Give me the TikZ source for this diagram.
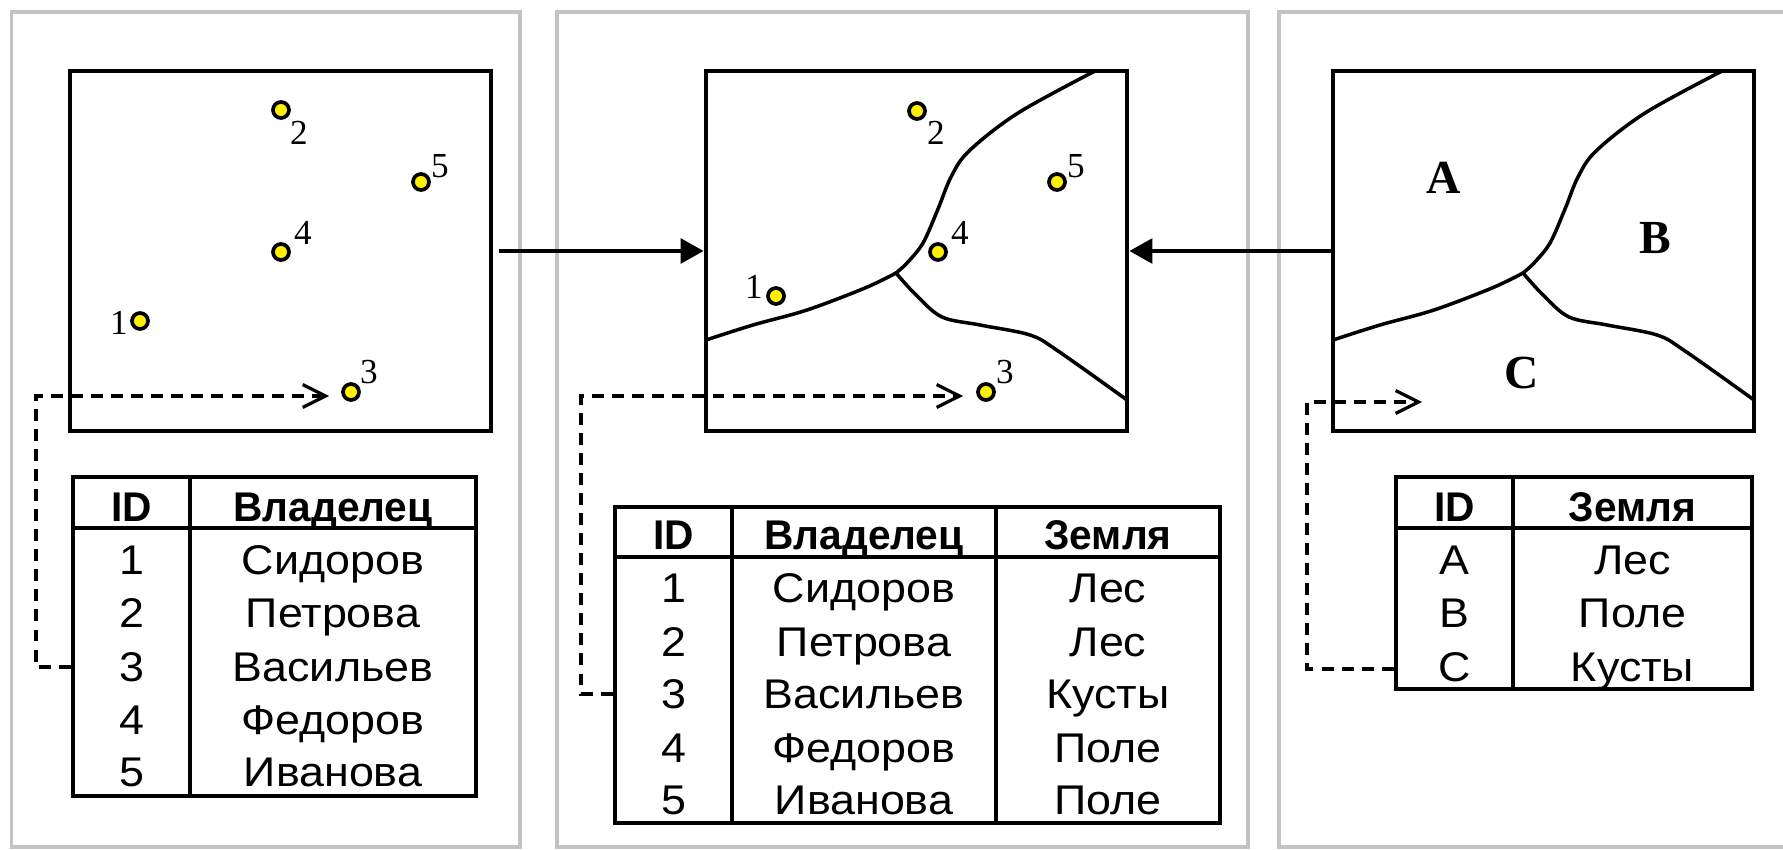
\documentclass[tikz,border=0pt]{standalone}
\usepackage{fontspec}
\setmainfont{Liberation Serif}
\setsansfont{Liberation Sans}[FakeStretch=1.08, BoldFeatures={FakeStretch=0.98}]
\usetikzlibrary{arrows.meta}
\definecolor{ptyellow}{RGB}{255,240,0}
\definecolor{panelgray}{RGB}{195,195,195}
\newcommand\voronoilines{%
  \draw[border] plot[smooth, tension=0.55] coordinates {(389,0) (312,42) (263,80) (245,106) (232,138) (217,172) (201,192) (190,202)};
  \draw[border] plot[smooth, tension=0.55] coordinates {(0,269) (47,254) (101,239) (159,217) (190,202)};
  \draw[border] plot[smooth, tension=0.55] coordinates {(190,202) (210,224) (236,246) (274,254) (324,264) (352,280) (421,329)};
}
\begin{document}
\begin{tikzpicture}[x=0.01cm,y=-0.01cm,
  panel/.style={draw=panelgray, line width=0.9pt},
  mapbox/.style={draw, line width=1.3pt, minimum width=4.21cm, minimum height=3.6cm, inner sep=0pt},
  pt/.style={circle, draw, fill=ptyellow, line width=1.05pt, minimum size=0.16cm, inner sep=0pt},
  ptlab/.style={font=\fontsize{10pt}{10pt}\selectfont, inner sep=0pt},
  region/.style={font=\bfseries\fontsize{13.5pt}{13.5pt}\selectfont, inner sep=0pt},
  border/.style={line width=1pt, line join=round, line cap=round},
  conn/.style={line width=1pt, -{Triangle[length=6.5pt,width=7pt]}},
  dconn/.style={line width=0.9pt, dash pattern=on 3.4pt off 2.3pt, -{Straight Barb[length=6.5pt,width=6.5pt]}},
  tab/.style={draw, line width=1.3pt, inner sep=0pt},
  tline/.style={line width=1pt},
  cell/.style={font=\sffamily\fontsize{11.8pt}{13pt}\selectfont, inner sep=0pt, text height=8.5pt, text depth=0pt},
  hcell/.style={cell, font=\sffamily\bfseries\fontsize{11.8pt}{13pt}\selectfont},
]
\useasboundingbox (0,0) rectangle (1783,849);

% panels
\draw[panel] (11.5,12) rectangle (520,847);
\draw[panel] (557,12) rectangle (1248,847);
\draw[panel] (1800,12) -- (1279,12) -- (1279,847) -- (1800,847);

% maps
\node[mapbox] (m1) at (280.5,251) {};
\node[mapbox] (m2) at (916.5,251) {};
\node[mapbox] (m3) at (1543.5,251) {};

\begin{scope}[shift={(706,71)}]
  \voronoilines
\end{scope}
\begin{scope}[shift={(1333,71)}]
  \voronoilines
\end{scope}

% points map 1
\node[pt] (p11) at (140,321) {};
\node[pt] (p12) at (281,110) {};
\node[pt] (p13) at (351,392) {};
\node[pt] (p14) at (281,252) {};
\node[pt] (p15) at (421,182) {};
\node[ptlab] (l11) at (119,323) {1};
\node[ptlab] (l12) at (299,133) {2};
\node[ptlab] (l13) at (369,372) {3};
\node[ptlab] (l14) at (303,233) {4};
\node[ptlab] (l15) at (440,166) {5};

% points map 2
\node[pt] (p21) at (776,296) {};
\node[pt] (p22) at (917,111) {};
\node[pt] (p23) at (986,392) {};
\node[pt] (p24) at (938,252) {};
\node[pt] (p25) at (1057,182) {};
\node[ptlab] (l21) at (754,287) {1};
\node[ptlab] (l22) at (936,133) {2};
\node[ptlab] (l23) at (1005,372) {3};
\node[ptlab] (l24) at (960,233) {4};
\node[ptlab] (l25) at (1076,166) {5};

% regions map 3
\node[region] (ra) at (1444,178) {A};
\node[region] (rb) at (1655,238) {B};
\node[region] (rc) at (1522,373) {C};

% main arrows
\draw[conn, shorten <=1.5pt] (m1.east) -- (m2.west);
\draw[conn] (m3.west) -- (m2.east);

% table 1
\node[tab, minimum width=4.03cm, minimum height=3.19cm] (tab1) at (274.5,636.5) {};
\draw[tline] (73,528) -- (476,528);
\draw[tline] (190,477) -- (190,796);
\node[hcell] (t1h1) at (131.5,507) {ID};
\node[hcell] (t1h2) at (333,507) {Владелец};
\node[cell] (t1a1) at (131.5,560) {1};
\node[cell] (t1a2) at (131.5,613) {2};
\node[cell] (t1a3) at (131.5,667) {3};
\node[cell] (t1a4) at (131.5,720) {4};
\node[cell] (t1a5) at (131.5,772) {5};
\node[cell] (t1b1) at (333,560) {Сидоров};
\node[cell] (t1b2) at (333,613) {Петрова};
\node[cell] (t1b3) at (333,667) {Васильев};
\node[cell] (t1b4) at (333,720) {Федоров};
\node[cell] (t1b5) at (333,772) {Иванова};

% table 2
\node[tab, minimum width=6.05cm, minimum height=3.16cm] (tab2) at (917.5,665) {};
\draw[tline] (615,557) -- (1220,557);
\draw[tline] (732,507) -- (732,823);
\draw[tline] (996,507) -- (996,823);
\node[hcell] (t2h1) at (673.5,535) {ID};
\node[hcell] (t2h2) at (864,535) {Владелец};
\node[hcell] (t2h3) at (1108,535) {Земля};
\node[cell] (t2a1) at (673.5,588) {1};
\node[cell] (t2a2) at (673.5,642) {2};
\node[cell] (t2a3) at (673.5,694) {3};
\node[cell] (t2a4) at (673.5,748) {4};
\node[cell] (t2a5) at (673.5,800) {5};
\node[cell] (t2b1) at (864,588) {Сидоров};
\node[cell] (t2b2) at (864,642) {Петрова};
\node[cell] (t2b3) at (864,694) {Васильев};
\node[cell] (t2b4) at (864,748) {Федоров};
\node[cell] (t2b5) at (864,800) {Иванова};
\node[cell] (t2c1) at (1108,588) {Лес};
\node[cell] (t2c2) at (1108,642) {Лес};
\node[cell] (t2c3) at (1108,694) {Кусты};
\node[cell] (t2c4) at (1108,748) {Поле};
\node[cell] (t2c5) at (1108,800) {Поле};

% table 3
\node[tab, minimum width=3.56cm, minimum height=2.12cm] (tab3) at (1574,583) {};
\draw[tline] (1396,528) -- (1752,528);
\draw[tline] (1513,477) -- (1513,689);
\node[hcell] (t3h1) at (1454.5,507) {ID};
\node[hcell] (t3h2) at (1632.5,507) {Земля};
\node[cell] (t3a1) at (1454.5,560) {A};
\node[cell] (t3a2) at (1454.5,613) {B};
\node[cell] (t3a3) at (1454.5,667) {C};
\node[cell] (t3b1) at (1632.5,560) {Лес};
\node[cell] (t3b2) at (1632.5,613) {Поле};
\node[cell] (t3b3) at (1632.5,667) {Кусты};

% dashed links
\coordinate (d1a) at (36,667);
\coordinate (d1b) at (36,396);
\coordinate (d1e) at (329,396);
\draw[dconn] (tab1.west |- d1a) -- (d1a) -- (d1b) -- (d1e);
\coordinate (d2a) at (581,694);
\coordinate (d2b) at (581,396);
\coordinate (d2e) at (963,396);
\draw[dconn] (tab2.west |- d2a) -- (d2a) -- (d2b) -- (d2e);
\coordinate (d3a) at (1307,669);
\coordinate (d3b) at (1307,402);
\coordinate (d3e) at (1422,402);
\draw[dconn] (tab3.west |- d3a) -- (d3a) -- (d3b) -- (d3e);
\end{tikzpicture}
\end{document}
